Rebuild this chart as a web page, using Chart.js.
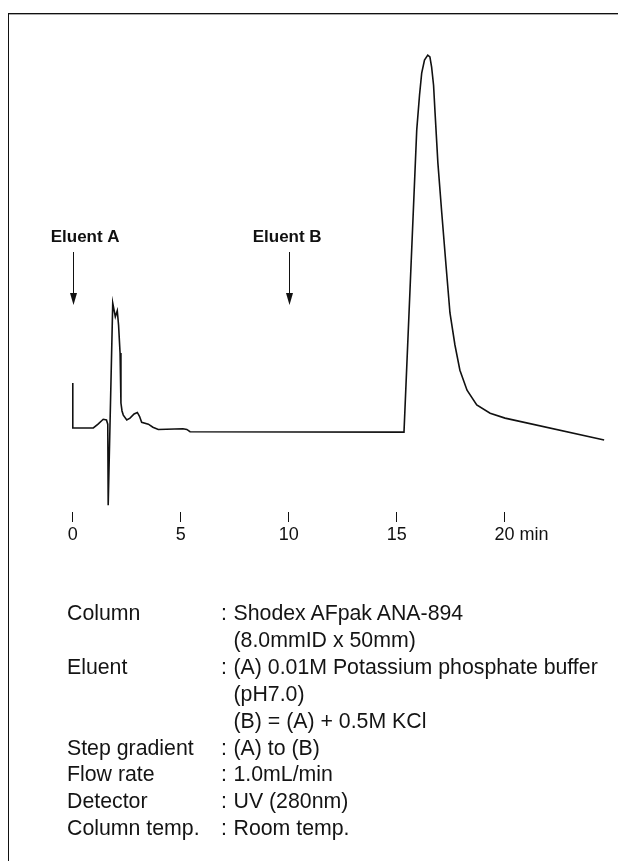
<!DOCTYPE html>
<html>
<head>
<meta charset="utf-8">
<script src="https://cdn.jsdelivr.net/npm/chart.js@4"></script>
<style>
  html, body { margin: 0; padding: 0; width: 618px; height: 861px; overflow: hidden; background: #fff; }
  #frame { position: absolute; left: 8px; top: 13px; width: 700px; height: 900px;
           border-left: 1px solid #111; border-top: 1px solid #111; box-shadow: inset 0 1px 0 #aaa; }
  #c { position: absolute; left: 0; top: 0; }
  .t { position: absolute; font-family: "Liberation Sans", Arial, Helvetica, sans-serif; font-size: 21.3px;
       color: #141414; white-space: nowrap; line-height: 26.9px; }
</style>
</head>
<body>
<div id="frame"></div>
<canvas id="c" width="618" height="861"></canvas>
<div id="info"></div>
<script>
// ---- data ----
const timeMin = [0, 0, 0.95, 1.17, 1.41, 1.56, 1.62, 1.64, 1.85, 1.97, 2.06, 2.12, 2.19, 2.23, 2.28, 2.34, 2.50, 2.65, 2.84, 2.99, 3.09, 3.19, 3.50, 3.71, 3.96, 5.10, 5.28, 5.43,
  15.34, 15.62, 15.93, 16.06, 16.16, 16.29, 16.44, 16.54, 16.62, 16.71, 16.78, 16.91, 17.09, 17.29, 17.47, 17.70, 17.93, 18.26, 18.71, 19.33, 20.02, 24.61];
const signal = [13.0, 1.1, 1.1, 2.1, 3.4, 3.2, 2.1, -19.4, 34.2, 30.6, 32.2, 28.4, 21.0, 7.7, 5.6, 4.5, 3.2, 3.7, 4.8, 5.2, 4.2, 2.6, 2.1, 1.3, 0.7, 0.9, 0.7, 0.1,
  0.0, 37.9, 80.1, 89.4, 95.2, 98.7, 100.0, 99.5, 96.8, 92.0, 84.6, 71.4, 58.1, 44.0, 31.6, 23.1, 16.4, 11.1, 7.2, 5.0, 3.7, -2.1];
const xTickValues = [0, 5, 10, 15, 20];
const xTickLabels = ['0', '5', '10', '15', '20'];
const xUnit = 'min';
const eluentLabels = ['Eluent A', 'Eluent B'];
const eluentTimes = [0, 10];
const condLabels = ['Column', '', 'Eluent', '', '', 'Step gradient', 'Flow rate', 'Detector', 'Column temp.'];
const condValues = [': Shodex AFpak ANA-894', '  (8.0mmID x 50mm)', ': (A) 0.01M Potassium phosphate buffer', '  (pH7.0)', '  (B) = (A) + 0.5M KCl',
  ': (A) to (B)', ': 1.0mL/min', ': UV (280nm)', ': Room temp.'];

// ---- layout (not data) ----
const FONT = '"Liberation Sans", Arial, Helvetica, sans-serif';
const eluentLabelOffset = [-22.8, -36.8];

// condition text block
const info = document.getElementById('info');
condLabels.forEach((lab, i) => {
  const top = 600 + i * 26.9;
  if (lab) {
    const d = document.createElement('div');
    d.className = 't'; d.style.left = '67px'; d.style.top = top + 'px'; d.textContent = lab;
    info.appendChild(d);
  }
  const v = condValues[i];
  if (v.startsWith(':')) {
    const c = document.createElement('div');
    c.className = 't'; c.style.left = '221px'; c.style.top = top + 'px'; c.textContent = ':';
    info.appendChild(c);
  }
  const d2 = document.createElement('div');
  d2.className = 't'; d2.style.left = '233.5px'; d2.style.top = top + 'px';
  d2.textContent = v.replace(/^[:\s]+/, '');
  info.appendChild(d2);
});

const overlay = {
  id: 'overlay',
  afterDraw(chart) {
    const ctx = chart.ctx;
    const xs = chart.scales.x;
    ctx.save();
    ctx.fillStyle = '#111';
    ctx.strokeStyle = '#111';
    eluentLabels.forEach((lab, i) => {
      const px = Math.round(xs.getPixelForValue(eluentTimes[i])) + 0.5;
      ctx.font = 'bold 17px ' + FONT;
      ctx.textBaseline = 'middle';
      ctx.textAlign = 'left';
      ctx.fillText(lab, px + eluentLabelOffset[i], 237);
      ctx.lineWidth = 1;
      ctx.beginPath(); ctx.moveTo(px, 252); ctx.lineTo(px, 294); ctx.stroke();
      ctx.beginPath(); ctx.moveTo(px - 3.5, 293); ctx.lineTo(px + 3.5, 293); ctx.lineTo(px, 305); ctx.closePath(); ctx.fill();
    });
    // unit after last tick label
    const last = xTickValues[xTickValues.length - 1];
    const p = xs.getPixelForValue(last);
    ctx.font = '18px ' + FONT;
    const w = ctx.measureText(xTickLabels[xTickLabels.length - 1]).width;
    ctx.textAlign = 'left';
    ctx.textBaseline = 'middle';
    ctx.fillText(' ' + xUnit, p + w / 2, 535);
    ctx.restore();
  }
};

new Chart(document.getElementById('c'), {
  type: 'line',
  data: {
    datasets: [{
      data: timeMin.map((t, i) => ({ x: t, y: signal[i] })),
      borderColor: '#111',
      borderWidth: 1.6,
      pointRadius: 0,
      tension: 0,
      fill: false
    }]
  },
  options: {
    responsive: false,
    devicePixelRatio: 1,
    animation: false,
    events: [],
    layout: { padding: { left: 51.2, right: 5.45, top: 40, bottom: 309 } },
    plugins: { legend: { display: false }, title: { display: false }, tooltip: { enabled: false } },
    scales: {
      x: {
        type: 'linear', min: -1, max: 25,
        afterBuildTicks: s => { s.ticks = xTickValues.map(v => ({ value: v })); },
        afterFit: s => { s.height = 40; },
        border: { display: false },
        grid: { display: true, drawOnChartArea: false, drawTicks: true, tickLength: 10, color: '#111', lineWidth: 1 },
        ticks: {
          autoSkip: false, maxRotation: 0, padding: 2, color: '#111',
          font: { family: FONT, size: 18 },
          callback: v => xTickLabels[xTickValues.indexOf(v)]
        }
      },
      y: { display: false, min: -21.2, max: 104 }
    }
  },
  plugins: [overlay]
});
</script>
</body>
</html>
